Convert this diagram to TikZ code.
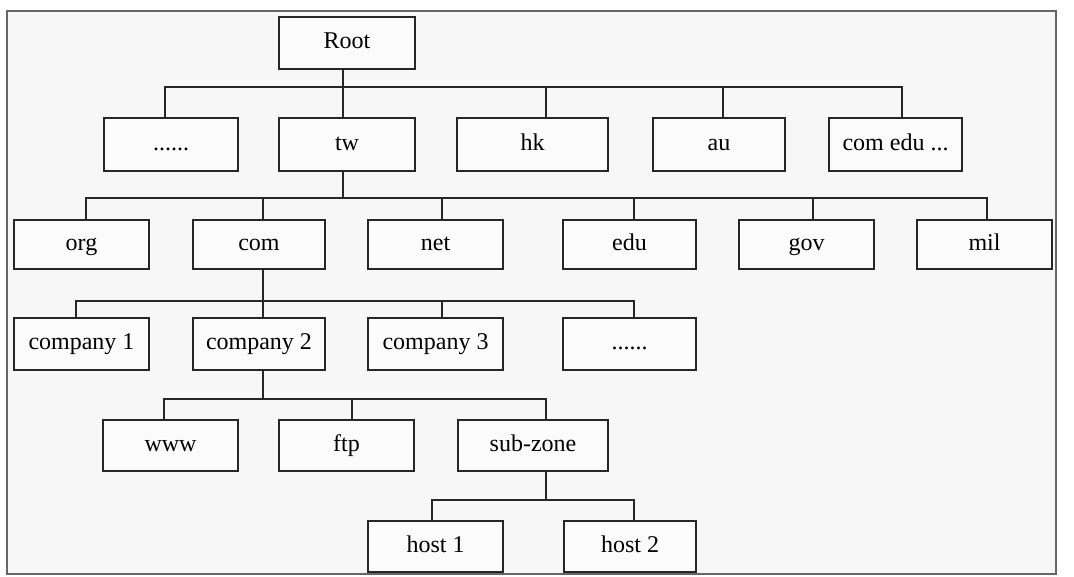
\documentclass[tikz,border=0pt]{standalone}
\usepackage{fontspec}
\setmainfont{Liberation Serif}
\begin{document}
\begin{tikzpicture}[x=1pt,y=-1pt,
  bx/.style={draw=black!85, line width=2pt, fill=white!97!gray, rectangle, inner sep=0pt,
    font=\fontsize{24}{27}\selectfont, text height=16pt, text depth=5pt, anchor=center},
  ln/.style={draw=black!85, line width=2pt}]
\useasboundingbox (0,0) rectangle (1074,576);
\draw[draw=black!60, line width=1.5pt, fill=black!3] (7,11) rectangle (1056,574);
% row 1
\node[bx, minimum width=136pt, minimum height=52pt] (root) at (347,43) {Root};
% row 2
\node[bx, minimum width=134pt, minimum height=53pt] (d1) at (171,144.5) {......};
\node[bx, minimum width=136pt, minimum height=53pt] (tw) at (347,144.5) {tw};
\node[bx, minimum width=151pt, minimum height=53pt] (hk) at (532.5,144.5) {hk};
\node[bx, minimum width=132pt, minimum height=53pt] (au) at (719,144.5) {au};
\node[bx, minimum width=133pt, minimum height=53pt] (ce) at (895.5,144.5) {com edu ...};
% row 3
\node[bx, minimum width=135pt, minimum height=49pt] (org) at (81.5,244.5) {org};
\node[bx, minimum width=132pt, minimum height=49pt] (com) at (259,244.5) {com};
\node[bx, minimum width=135pt, minimum height=49pt] (net) at (435.5,244.5) {net};
\node[bx, minimum width=133pt, minimum height=49pt] (edu) at (629.5,244.5) {edu};
\node[bx, minimum width=135pt, minimum height=49pt] (gov) at (806.5,244.5) {gov};
\node[bx, minimum width=135pt, minimum height=49pt] (mil) at (984.5,244.5) {mil};
% row 4
\node[bx, minimum width=135pt, minimum height=52pt] (c1) at (81.5,344) {company 1};
\node[bx, minimum width=132pt, minimum height=52pt] (c2) at (259,344) {company 2};
\node[bx, minimum width=135pt, minimum height=52pt] (c3) at (435.5,344) {company 3};
\node[bx, minimum width=133pt, minimum height=52pt] (d2) at (629.5,344) {......};
% row 5
\node[bx, minimum width=135pt, minimum height=51pt] (www) at (170.5,445.5) {www};
\node[bx, minimum width=135pt, minimum height=51pt] (ftp) at (346.5,445.5) {ftp};
\node[bx, minimum width=150pt, minimum height=51pt] (sub) at (533,445.5) {sub-zone};
% row 6
\node[bx, minimum width=135pt, minimum height=51pt] (h1) at (435.5,546.5) {host 1};
\node[bx, minimum width=132pt, minimum height=51pt] (h2) at (630,546.5) {host 2};
% bus levels
\coordinate (bus1) at (0,87);
\coordinate (bus2) at (0,198);
\coordinate (bus3) at (0,301);
\coordinate (bus4) at (0,399);
\coordinate (bus5) at (0,500);
% connectors level 1
\draw[ln] ([xshift=-4pt]root.south) -- ([xshift=-4pt]root.south |- bus1);
\draw[ln] ([xshift=-6pt]d1.north) |- ([xshift=6.5pt]ce.north |- bus1) -- ([xshift=6.5pt]ce.north);
\draw[ln] ([xshift=-4pt]tw.north) -- ([xshift=-4pt]tw.north |- bus1);
\draw[ln] ([xshift=13.5pt]hk.north) -- ([xshift=13.5pt]hk.north |- bus1);
\draw[ln] ([xshift=4pt]au.north) -- ([xshift=4pt]au.north |- bus1);
% level 2
\draw[ln] ([xshift=-4pt]tw.south) -- ([xshift=-4pt]tw.south |- bus2);
\draw[ln] ([xshift=4.5pt]org.north) |- ([xshift=2.5pt]mil.north |- bus2) -- ([xshift=2.5pt]mil.north);
\draw[ln] ([xshift=4pt]com.north) -- ([xshift=4pt]com.north |- bus2);
\draw[ln] ([xshift=6.5pt]net.north) -- ([xshift=6.5pt]net.north |- bus2);
\draw[ln] ([xshift=4.5pt]edu.north) -- ([xshift=4.5pt]edu.north |- bus2);
\draw[ln] ([xshift=6.5pt]gov.north) -- ([xshift=6.5pt]gov.north |- bus2);
% level 3
\draw[ln] ([xshift=4pt]com.south) -- ([xshift=4pt]com.south |- bus3);
\draw[ln] ([xshift=-5.5pt]c1.north) |- ([xshift=4.5pt]d2.north |- bus3) -- ([xshift=4.5pt]d2.north);
\draw[ln] ([xshift=4pt]c2.north) -- ([xshift=4pt]c2.north |- bus3);
\draw[ln] ([xshift=6.5pt]c3.north) -- ([xshift=6.5pt]c3.north |- bus3);
% level 4
\draw[ln] ([xshift=4pt]c2.south) -- ([xshift=4pt]c2.south |- bus4);
\draw[ln] ([xshift=-6.5pt]www.north) |- ([xshift=13pt]sub.north |- bus4) -- ([xshift=13pt]sub.north);
\draw[ln] ([xshift=5.5pt]ftp.north) -- ([xshift=5.5pt]ftp.north |- bus4);
% level 5
\draw[ln] ([xshift=13pt]sub.south) -- ([xshift=13pt]sub.south |- bus5);
\draw[ln] ([xshift=-3.5pt]h1.north) |- ([xshift=4pt]h2.north |- bus5) -- ([xshift=4pt]h2.north);
\end{tikzpicture}
\end{document}
